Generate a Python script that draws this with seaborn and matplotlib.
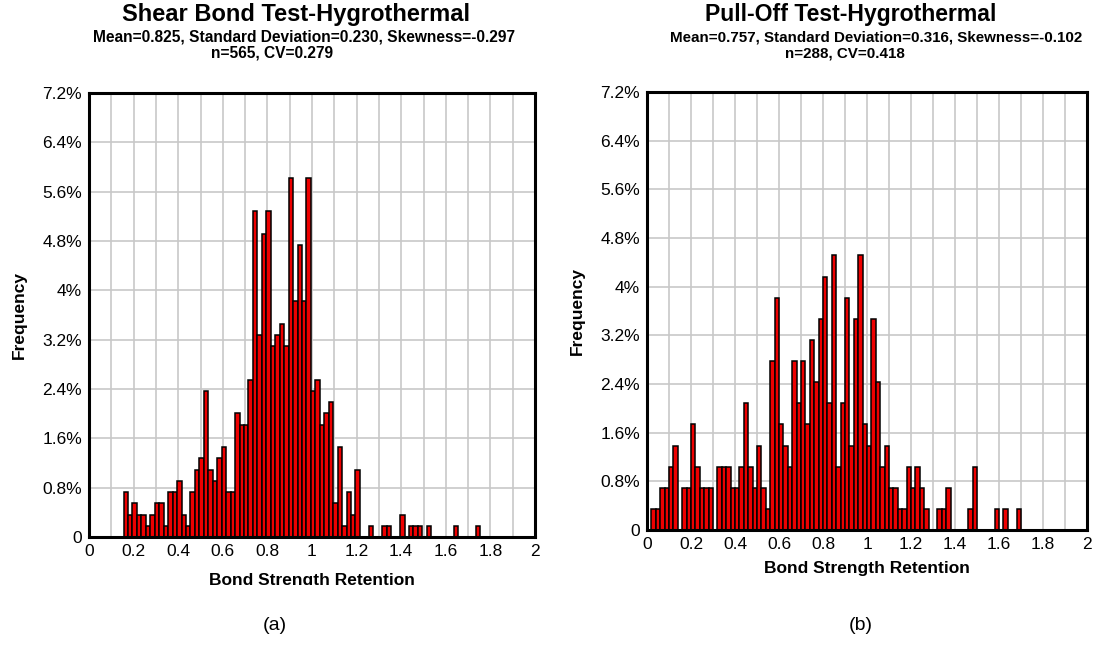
import numpy as np
import pandas as pd
import seaborn as sns
import matplotlib
matplotlib.use("Agg")
import matplotlib.pyplot as plt
from matplotlib.ticker import FixedLocator, FuncFormatter
from matplotlib.transforms import Bbox

# Shear bond test: counts per 0.02-wide bin, first bin starting at 0.155
shear_first_edge = 0.155
shear_counts = [4, 2, 3, 2, 2, 1, 2, 3, 3, 1,
                4, 4, 5, 2, 1, 4, 6, 7, 13, 6,
                5, 7, 8, 4, 4, 11, 10, 10, 14, 29,
                18, 27, 29, 17, 18, 19, 17, 32, 21, 26,
                21, 32, 13, 14, 10, 11, 12, 3, 8, 1,
                4, 2, 6, 0, 0, 1, 0, 0, 1, 1,
                0, 0, 2, 0, 1, 1, 1, 0, 1, 0,
                0, 0, 0, 0, 1, 0, 0, 0, 0, 1]

# Pull-off test: counts per 0.02-wide bin, first bin starting at 0.02
pull_first_edge = 0.02
pull_counts = [1, 1, 2, 2, 3, 4, 0, 2, 2, 5,
               3, 2, 2, 2, 0, 3, 3, 3, 2, 2,
               3, 6, 3, 2, 4, 2, 1, 8, 11, 5,
               4, 3, 8, 6, 8, 5, 9, 7, 10, 12,
               6, 13, 3, 6, 11, 4, 10, 13, 5, 4,
               10, 7, 3, 4, 2, 2, 1, 1, 3, 2,
               3, 2, 1, 0, 0, 1, 1, 2, 0, 0,
               0, 0, 1, 3, 0, 0, 0, 0, 1, 0,
               1, 0, 0, 1]

bin_width = 0.02

titles = ["Shear Bond Test-Hygrothermal", "Pull-Off Test-Hygrothermal"]
subtitles = ["Mean=0.825, Standard Deviation=0.230, Skewness=-0.297",
             "Mean=0.757, Standard Deviation=0.316, Skewness=-0.102"]
stat_lines = ["n=565, CV=0.279", "n=288, CV=0.418"]
panel_tags = ["(a)", "(b)"]
x_label = "Bond Strength Retention"
y_label = "Frequency"

x_ticks = [0, 0.2, 0.4, 0.6, 0.8, 1.0, 1.2, 1.4, 1.6, 1.8, 2.0]
y_ticks = [0, 0.8, 1.6, 2.4, 3.2, 4.0, 4.8, 5.6, 6.4, 7.2]

sns.set_theme(style="white")
plt.rcParams["font.family"] = ["Liberation Sans", "DejaVu Sans"]
plt.rcParams["text.color"] = "black"
plt.rcParams["axes.labelcolor"] = "black"
plt.rcParams["xtick.color"] = "black"
plt.rcParams["ytick.color"] = "black"

W, H = 1105, 651
fig = plt.figure(figsize=(W / 100, H / 100), dpi=100)


def px_axes(l, t, r, b):
    return fig.add_axes([l / W, 1 - b / H, (r - l) / W, (b - t) / H])


def make_frame(counts, first_edge):
    n_bins = len(counts)
    edges = first_edge + bin_width * np.arange(n_bins + 1)
    centers = edges[:-1] + bin_width / 2
    return pd.DataFrame({"value": centers, "count": counts}), edges.tolist()


panels = [
    dict(box=(89, 93, 535, 537), counts=shear_counts, first=shear_first_edge,
         title_x=(296, 304, 272), tag_x=275, xlab_y=580, ylab_x=19,
         xlab_clip=585, title_size=17, sub_size=11.2),
    dict(box=(647, 92, 1087, 530), counts=pull_counts, first=pull_first_edge,
         title_x=(851, 876, 845), tag_x=861, xlab_y=569, ylab_x=577,
         xlab_clip=None, title_size=16.6, sub_size=10.9),
]

for i, p in enumerate(panels):
    ax = px_axes(*p["box"])
    df, edges = make_frame(p["counts"], p["first"])
    sns.histplot(data=df, x="value", weights="count", bins=edges, stat="percent",
                 color="#ee0000", edgecolor="black", linewidth=1.1, alpha=1,
                 ax=ax)
    ax.set_xlim(0, 2)
    ax.set_ylim(0, 7.2)
    ax.set_axisbelow(True)
    ax.xaxis.set_major_locator(FixedLocator(x_ticks))
    ax.xaxis.set_minor_locator(FixedLocator(np.arange(0.1, 2.0, 0.2)))
    ax.yaxis.set_major_locator(FixedLocator(y_ticks))
    ax.xaxis.set_major_formatter(FuncFormatter(lambda v, _: f"{round(v, 1):g}"))
    ax.yaxis.set_major_formatter(
        FuncFormatter(lambda v, _: "0" if abs(v) < 1e-9 else f"{round(v, 1):g}%"))
    ax.grid(which="both", color="#c8c8c8", linewidth=1.2)
    ax.tick_params(which="both", length=0, labelsize=12.5, colors="black")
    ax.tick_params(axis="x", pad=5)
    ax.tick_params(axis="y", pad=5)
    for s in ax.spines.values():
        s.set_visible(True)
        s.set_color("black")
        s.set_linewidth(2.2)

    l, t, r, b = p["box"]
    ax.set_xlabel(x_label, fontsize=12.5, fontweight="bold")
    ax.set_ylabel(y_label, fontsize=12.5, fontweight="bold")
    ax.xaxis.set_label_coords(0.5, (b - p["xlab_y"]) / (b - t))
    ax.xaxis.label.set_va("center")
    ax.yaxis.set_label_coords((p["ylab_x"] - l) / (r - l), 0.5)
    ax.yaxis.label.set_va("center")
    if p["xlab_clip"] is not None:
        # the lower edge of the left panel's axis title is cut off
        clip = Bbox.from_extents(0, H - p["xlab_clip"], W / 2, H)
        ax.xaxis.label.set_clip_box(clip)
        ax.xaxis.label.set_clip_on(True)

    tx = p["title_x"]
    fig.text(tx[0] / W, 1 - 21 / H, titles[i], ha="center", va="baseline",
             fontsize=p["title_size"], fontweight="bold")
    fig.text(tx[1] / W, 1 - 41 / H, subtitles[i], ha="center", va="baseline",
             fontsize=p["sub_size"], fontweight="bold")
    fig.text(tx[2] / W, 1 - 57 / H, stat_lines[i], ha="center", va="baseline",
             fontsize=p["sub_size"], fontweight="bold")
    fig.text(p["tag_x"] / W, 1 - 626 / H, panel_tags[i], ha="center", va="center",
             fontsize=14)

fig.savefig("out.png", dpi=100, facecolor="white")
